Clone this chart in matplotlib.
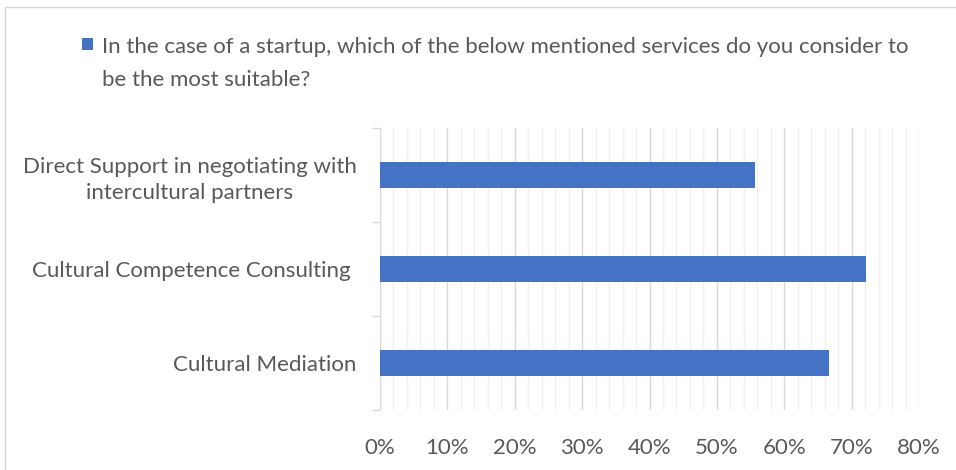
import matplotlib
matplotlib.use("Agg")
import matplotlib.pyplot as plt
from matplotlib.patches import Rectangle
from matplotlib.ticker import MultipleLocator, FuncFormatter

categories = [
    "Cultural Mediation",
    "Cultural Competence Consulting ",
    "Direct Support in negotiating with\nintercultural partners",
]
values = [0.667, 0.722, 0.556]
series_name = ("In the case of a startup, which of the below mentioned services do you consider to\n"
               "be the most suitable?")
x_ticks = [0.0, 0.1, 0.2, 0.3, 0.4, 0.5, 0.6, 0.7, 0.8]

BAR = "#4472C4"
TEXT = "#595959"
FS = 16
plt.rcParams["font.family"] = ["Lato", "DejaVu Sans"]

fig = plt.figure(figsize=(9.56, 4.70), dpi=100)
fig.patches.append(Rectangle((5 / 956, -0.01), 1.0, 1 - 7 / 470 + 0.01, transform=fig.transFigure,
                             fill=False, edgecolor="#d9d9d9", linewidth=1.0))

ax = fig.add_axes([380 / 956, 1 - 410 / 470, (919 - 380) / 956, (410 - 128) / 470])
ypos = list(range(len(categories)))
ax.barh(ypos, values, height=0.28, color=BAR, zorder=3)

ax.set_xlim(0, 0.8)
ax.set_ylim(-0.5, len(categories) - 0.5)
ax.set_xticks(x_ticks)
ax.xaxis.set_minor_locator(MultipleLocator(0.02))
ax.xaxis.set_major_formatter(FuncFormatter(lambda v, p: f"{v * 100:.0f}%"))
ax.grid(axis="x", which="major", color="#d9d9d9", linewidth=1.0, zorder=0)
ax.grid(axis="x", which="minor", color="#f0f0f0", linewidth=1.0, zorder=0)
ax.tick_params(axis="x", which="both", length=0, pad=20, labelsize=FS, labelcolor=TEXT)

ax.set_yticks(ypos)
ax.set_yticklabels(categories, multialignment="center", linespacing=1.4)
ax.set_yticks([-0.5, 0.5, 1.5, 2.5], minor=True)
ax.tick_params(axis="y", which="major", length=0, pad=17, labelsize=FS, labelcolor=TEXT)
ax.tick_params(axis="y", which="minor", length=6, color="#d9d9d9", width=1.0)

for s in ["top", "right", "bottom"]:
    ax.spines[s].set_visible(False)
ax.spines["left"].set_color("#d9d9d9")

# legend: marker square and series name
fig.patches.append(Rectangle((82 / 956, 1 - 50 / 470), 11 / 956, 12 / 470, transform=fig.transFigure,
                             facecolor=BAR, edgecolor="none"))
fig.text(102 / 956, 1 - 37 / 470, series_name, ha="left", va="top", fontsize=FS,
         color=TEXT, linespacing=1.8)

fig.savefig("out.png", dpi=100)
